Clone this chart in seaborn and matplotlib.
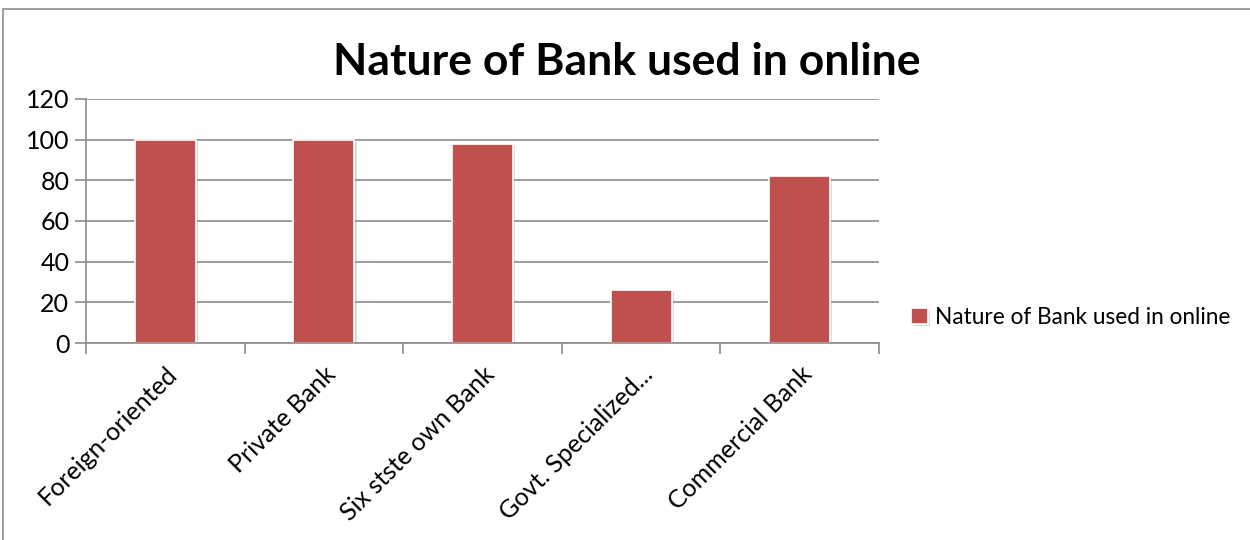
import matplotlib
matplotlib.use("Agg")
import matplotlib.pyplot as plt
import matplotlib.patheffects as pe
from matplotlib.patches import Rectangle
import seaborn as sns
import pandas as pd

categories = ["Foreign-oriented", "Private Bank", "Six stste own Bank",
              "Govt. Specialized...", "Commercial Bank"]
values = [100, 100, 98, 26, 82]
series_name = "Nature of Bank used in online"
title = "Nature of Bank used in online"
yticks = [0, 20, 40, 60, 80, 100, 120]

sns.set_theme(style="white")
plt.rcParams['font.family'] = ['Lato', 'DejaVu Sans']
plt.rcParams['text.color'] = 'black'
plt.rcParams['xtick.labelcolor'] = 'black'
plt.rcParams['ytick.labelcolor'] = 'black'

fig = plt.figure(figsize=(12.5, 5.4), dpi=100)
ax = fig.add_axes([0.0688, 0.3648, 0.6344, 0.4519])

df = pd.DataFrame({"cat": categories, "val": values})
sns.barplot(data=df, x="cat", y="val", color="#C0504D", saturation=1,
            width=0.385, edgecolor="white", linewidth=1.2, ax=ax, label=series_name)

for p in ax.patches:
    p.set_path_effects([pe.SimplePatchShadow(offset=(1.5, -1.5), shadow_rgbFace="#999999", alpha=0.35),
                        pe.Normal()])

ax.set_ylim(0, 120)
ax.set_xlim(-0.5, len(categories) - 0.5)
ax.set_yticks(yticks)
ax.set_yticklabels([str(v) for v in yticks], fontsize=18)
ax.yaxis.grid(True, color="#8c8c8c", linewidth=1.2)
ax.set_axisbelow(True)
ax.set_xlabel("")
ax.set_ylabel("")

for s in ["top", "right"]:
    ax.spines[s].set_visible(False)
for s in ["left", "bottom"]:
    ax.spines[s].set_color("#8c8c8c")
    ax.spines[s].set_linewidth(1.2)

ax.tick_params(axis="y", which="major", direction="out", length=8, width=1.2,
               color="#8c8c8c", left=True, pad=4, labelcolor="black")
ax.set_xticks(range(len(categories)))
ax.set_xticklabels(categories, fontsize=18, rotation=45, ha="right",
                   rotation_mode="anchor", color="black")
ax.tick_params(axis="x", which="major", length=0, pad=14)
ax.set_xticks([i - 0.5 for i in range(len(categories) + 1)], minor=True)
ax.tick_params(axis="x", which="minor", direction="out", length=8, width=1.2,
               color="#8c8c8c", bottom=True)

fig.text(0.5016, 0.885, title, ha="center", va="center", fontsize=32,
         fontweight="bold", color="black")

leg = ax.legend(loc="center left", bbox_to_anchor=(0.729, 0.412),
                bbox_transform=fig.transFigure, frameon=False, fontsize=16.3,
                handlelength=0.75, handleheight=0.75, handletextpad=0.3,
                borderpad=0, borderaxespad=0)
for t in leg.get_texts():
    t.set_color("black")

fig.patches.append(Rectangle((0.0024, -0.05), 1.1, 1.0333, transform=fig.transFigure,
                             fill=False, edgecolor="#8c8c8c", linewidth=1.2))

fig.savefig("out.png", dpi=100, facecolor="white")
